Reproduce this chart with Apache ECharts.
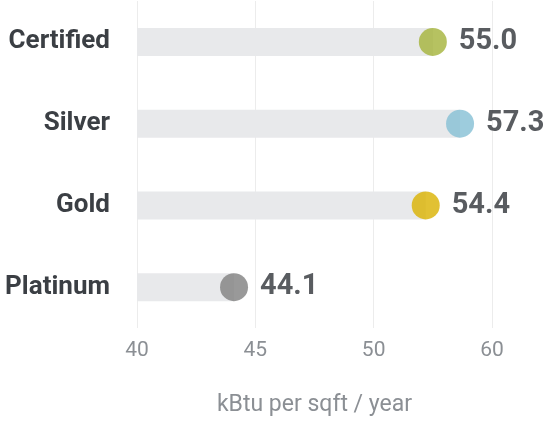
<!DOCTYPE html>
<html>
<head>
<meta charset="utf-8">
<script src="https://cdn.jsdelivr.net/npm/echarts@6/dist/echarts.min.js"></script>
<style>
  html, body { margin: 0; padding: 0; background: #ffffff; }
  #chart { width: 558px; height: 422px; }
</style>
</head>
<body>
<div id="chart"></div>
<script>
  var categories = ['Certified', 'Silver', 'Gold', 'Platinum'];
  var values = [55.0, 57.3, 54.4, 44.1];
  var dotColors = ['#a4b33a', '#85bfd5', '#d9b100', '#7f7f7f'];
  // the source axis has evenly spaced ticks at uneven steps (40, 45, 50, 60)
  var tickValues = [40, 45, 50, 60];
  var tickLabels = ['40', '45', '50', '60'];
  var axisName = 'kBtu per sqft / year';

  // map a value onto the tick index scale (piecewise linear between ticks)
  function toAxis(v) {
    for (var i = 0; i < tickValues.length - 1; i++) {
      if (v <= tickValues[i + 1]) {
        return i + (v - tickValues[i]) / (tickValues[i + 1] - tickValues[i]);
      }
    }
    return tickValues.length - 1;
  }

  var chart = echarts.init(document.getElementById('chart'));
  chart.setOption({
    animation: false,
    grid: { left: 137, right: 66, top: 1, bottom: 92 },
    xAxis: {
      type: 'value',
      min: 0,
      max: tickValues.length - 1,
      interval: 1,
      name: axisName,
      nameLocation: 'middle',
      nameGap: 66,
      nameTextStyle: { color: '#8b8f94', fontSize: 23, fontFamily: 'Roboto' },
      axisLine: { show: false },
      axisTick: { show: false },
      axisLabel: {
        color: '#8b8f94', fontSize: 21, fontFamily: 'Roboto', margin: 12,
        formatter: function (v) { return tickLabels[Math.round(v)]; }
      },
      splitLine: { show: true, lineStyle: { color: '#ececec', width: 1 } }
    },
    yAxis: {
      type: 'category',
      inverse: true,
      data: categories,
      axisLine: { show: false },
      axisTick: { show: false },
      axisLabel: {
        color: '#3b3f44', fontSize: 26, fontWeight: 'bold', fontFamily: 'Roboto', margin: 27
      }
    },
    series: [
      {
        type: 'bar',
        barWidth: 28,
        silent: true,
        itemStyle: { color: '#e8e9eb' },
        data: values.map(toAxis)
      },
      {
        type: 'scatter',
        symbol: 'circle',
        symbolSize: 28,
        z: 3,
        data: values.map(function (v, i) {
          return {
            value: [toAxis(v), categories[i]],
            raw: v,
            itemStyle: { color: dotColors[i] }
          };
        }),
        label: {
          show: true,
          position: 'right',
          distance: 12,
          color: '#2f3338',
          fontSize: 29,
          fontWeight: 'bold',
          fontFamily: 'Roboto',
          formatter: function (p) { return p.data.raw.toFixed(1); }
        }
      }
    ]
  });
</script>
</body>
</html>
